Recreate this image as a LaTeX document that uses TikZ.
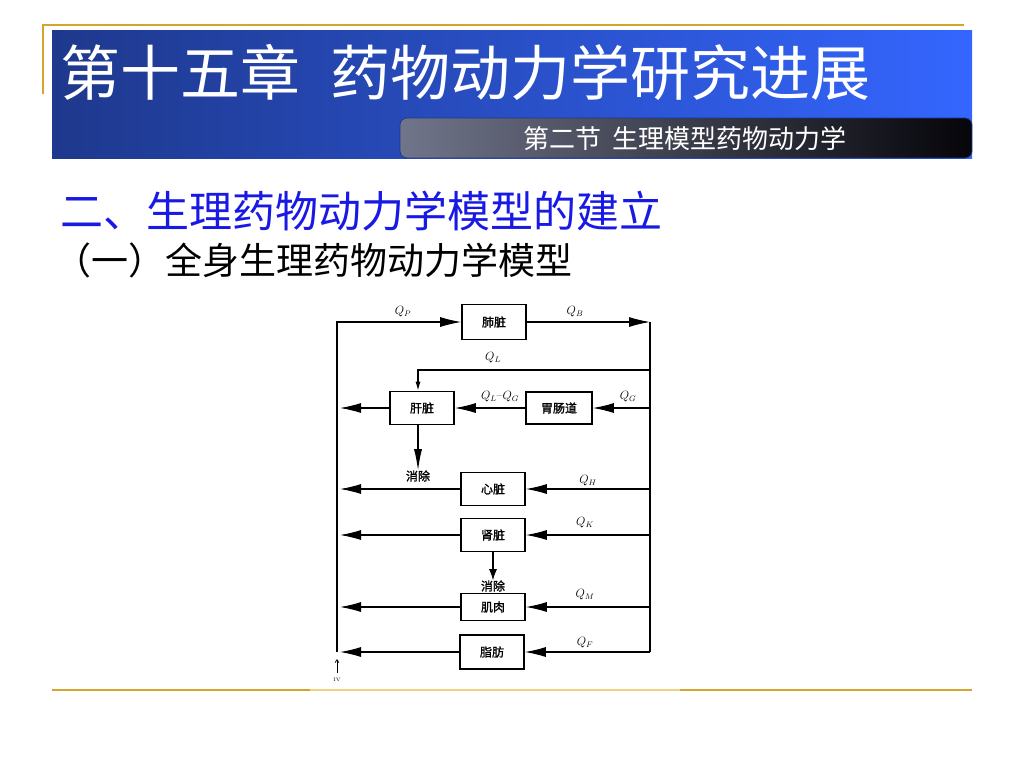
\documentclass[tikz,border=0pt]{standalone}
\usepackage{fontspec}
\newfontfamily\cjk{Noto Sans CJK SC}
\newfontfamily\cjkfig[FakeBold=1.5]{Noto Sans CJK SC}
\usetikzlibrary{arrows.meta}
\definecolor{bannerNavy}{RGB}{30,56,140}
\definecolor{bannerMid}{RGB}{38,76,195}
\definecolor{bannerBlue}{RGB}{52,102,255}
\definecolor{tabGray}{RGB}{112,117,138}
\definecolor{tabBlack}{RGB}{5,5,10}
\definecolor{ruleGold}{RGB}{212,165,45}
\definecolor{ruleLight}{RGB}{238,210,130}
\definecolor{headBlue}{RGB}{25,25,230}
\tikzset{
  organ/.style = {draw=#1, line width=1.6pt, minimum width=64pt, minimum height=33pt, inner sep=0pt, font=\cjkfig\fontsize{12}{12}\selectfont},
  vessel/.style = {color=#1, line width=1.1pt},
  flow/.style = {color=#1, line width=1.1pt, -{Latex[length=21pt,width=10pt]}},
  drain/.style = {color=#1, line width=1.1pt, -{Latex[length=21pt,width=8pt]}},
  drainShort/.style = {color=#1, line width=1.1pt, -{Latex[length=11pt,width=8pt]}},
  feed/.style = {color=#1, line width=1.1pt, -{Latex[length=9pt,width=5pt]}},
  rate/.style = {font=\fontsize{12}{14}\selectfont, inner sep=0pt},
  outflow/.style = {font=\cjkfig\fontsize{12}{12}\selectfont, inner sep=0pt},
  goldRule/.style = {color=#1, line width=2.5pt},
  slideText/.style = {anchor=west, inner sep=0pt, text=#1}
}

\begin{document}
\begin{tikzpicture}[x=1pt,y=-1pt]
    \useasboundingbox (0,0) rectangle (1024,768);

    %==== Header ====
    \begin{scope}
        % Banner
        \shade[left color=bannerNavy, middle color=bannerMid, right color=bannerBlue] (52,31) rectangle (972,158);
        \shadedraw[draw=bannerNavy, line width=0.8pt, rounded corners=7pt, left color=tabGray, right color=tabBlack] (400,118) rectangle (972,158);

        % Rules
        \draw[goldRule={ruleGold}] (42,25) -- (964,25);
        \draw[goldRule={ruleGold}] (43,25) -- (43,94);
        \draw[goldRule={ruleGold}] (52,690) -- (972,690);
        \draw[goldRule={ruleLight}] (310,690) -- (680,690);

        % Labels
        \node[slideText={white}, font=\cjk\fontsize{60}{60}\selectfont] (title) at (60,72) {第十五章\hspace{0.5em}药物动力学研究进展};
        \node[slideText={white}, font=\cjk\fontsize{26}{26}\selectfont] (section) at (523,139) {第二节\hspace{0.45em}生理模型药物动力学};
        \node[slideText={headBlue}, font=\cjk\fontsize{43}{43}\selectfont] (heading) at (60,211) {二、生理药物动力学模型的建立};
        \node[slideText={black}, font=\cjk\fontsize{37}{37}\selectfont] (subheading) at (54,260) {（一）全身生理药物动力学模型};
    \end{scope}

    %==== Whole body model ====
    \begin{scope}
        % Coordinates
        \coordinate (ltop) at (337,322);
        \coordinate (lbot) at (337,652);
        \coordinate (rtop) at (650,322);
        \coordinate (rbot) at (650,652);
        \coordinate (qlturn) at (418,370);
        \coordinate (ivtail) at (337,673);
        \coordinate (ivtip) at (337,659);

        % Organs
        \node[organ={black}, minimum height=35pt] (lung) at (494,322) {肺脏};
        \node[organ={black}] (liver) at (422,408) {肝脏};
        \node[organ={black}, minimum width=66pt, minimum height=32pt] (gut) at (559,408) {胃肠道};
        \node[organ={black}] (heart) at (493,489) {心脏};
        \node[organ={black}] (kidney) at (493,535) {肾脏};
        \node[organ={black}, minimum height=27pt] (muscle) at (493,607) {肌肉};
        \node[organ={black}, minimum height=34pt] (fat) at (492,652) {脂肪};

        % Elimination
        \node[outflow] (elimLiver) at (418,476) {消除};
        \node[outflow] (elimKidney) at (493,586) {消除};

        % Arterial and venous lines
        \draw[flow={black}] (lbot) -- (ltop) -- (lung.west);
        \draw[flow={black}] (lung.east) -- (rtop);
        \draw[vessel={black}] (rtop) -- (rbot);

        % Liver and gut
        \draw[feed={black}] (qlturn -| rtop) -- (qlturn) -- (qlturn |- liver.north);
        \draw[flow={black}] (liver -| rtop) -- (gut.east);
        \draw[flow={black}] (gut.west) -- (liver.east);
        \draw[flow={black}] (liver.west) -- ([xshift=3pt]liver -| ltop);
        \draw[drain={black}] (qlturn |- liver.south) -- (elimLiver.north);

        % Other tissues
        \draw[flow={black}] (heart -| rtop) -- (heart.east);
        \draw[flow={black}] (heart.west) -- ([xshift=3pt]heart -| ltop);
        \draw[flow={black}] (kidney -| rtop) -- (kidney.east);
        \draw[flow={black}] (kidney.west) -- ([xshift=3pt]kidney -| ltop);
        \draw[drainShort={black}] (kidney.south) -- (elimKidney.north);
        \draw[flow={black}] (muscle -| rtop) -- (muscle.east);
        \draw[flow={black}] (muscle.west) -- ([xshift=3pt]muscle -| ltop);
        \draw[flow={black}] (fat -| rtop) -- (fat.east);
        \draw[flow={black}] (fat.west) -- ([xshift=3pt]fat -| ltop);

        % Dose
        \draw[line width=0.7pt, -{Straight Barb[length=3pt,width=4pt]}] (ivtail) -- (ivtip);
        \node[font=\fontsize{5}{5}\selectfont, inner sep=0pt] (iv) at (337,680) {IV};

        % Flow labels
        \node[rate] (qP) at (403,312) {$Q_P$};
        \node[rate] (qB) at (575,312) {$Q_B$};
        \node[rate] (qL) at (493,358) {$Q_L$};
        \node[rate] (qLG) at (500,397) {$Q_L$--$Q_G$};
        \node[rate] (qG) at (628,397) {$Q_G$};
        \node[rate] (qH) at (588,481) {$Q_H$};
        \node[rate] (qK) at (585,523) {$Q_K$};
        \node[rate] (qM) at (585,595) {$Q_M$};
        \node[rate] (qF) at (585,643) {$Q_F$};
    \end{scope}

\end{tikzpicture}
\end{document}
